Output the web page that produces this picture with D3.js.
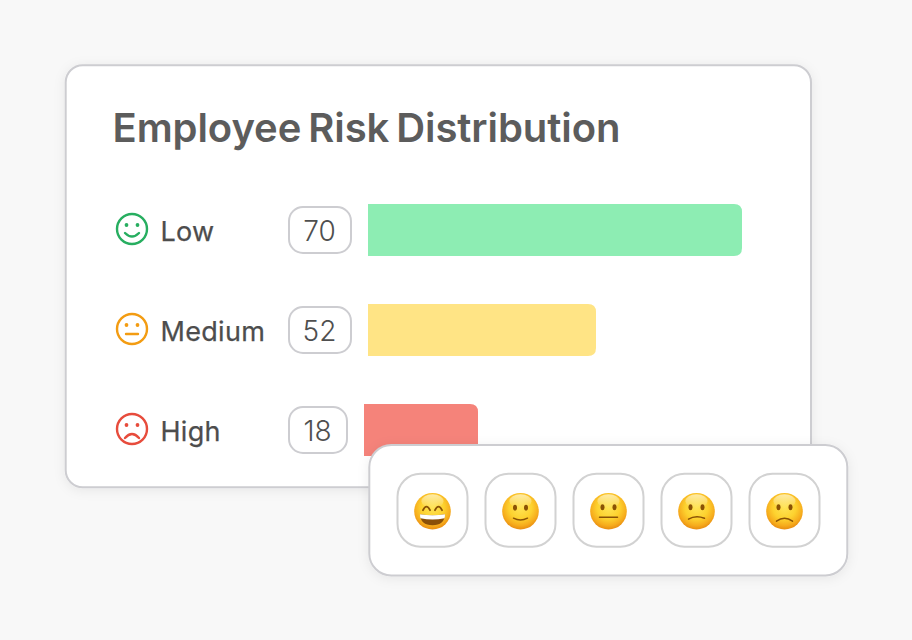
<!DOCTYPE html>
<html>
<head>
<meta charset="utf-8">
<style>
  html, body { margin: 0; padding: 0; background: #f8f8f8; }
  svg { display: block; }
  text { font-family: Inter, "Noto Sans", sans-serif; }
</style>
</head>
<body>
<script src="https://cdn.jsdelivr.net/npm/d3@7/dist/d3.min.js"></script>
<script>
const chartTitle = "Employee Risk Distribution";
const categories = ["Low", "Medium", "High"];
const riskValues = [70, 52, 18];
const barColors = ["#8dedb3", "#ffe485", "#f5837a"];
const iconColors = ["#27ae60", "#f39c12", "#e74c3c"];
const moods = ["grin", "smile", "neutral", "slight", "frown"];

const svg = d3.select("body").append("svg").attr("width", 912).attr("height", 640);
const defs = svg.append("defs");

const shadow = defs.append("filter").attr("id", "soft").attr("x", "-10%").attr("y", "-20%").attr("width", "120%").attr("height", "140%");
shadow.append("feDropShadow").attr("dx", 0).attr("dy", 2).attr("stdDeviation", 6).attr("flood-color", "#000").attr("flood-opacity", 0.07);

const face = defs.append("radialGradient").attr("id", "face").attr("cx", "50%").attr("cy", "40%").attr("r", "62%");
face.append("stop").attr("offset", "0%").attr("stop-color", "#ffe455");
face.append("stop").attr("offset", "50%").attr("stop-color", "#fdd22f");
face.append("stop").attr("offset", "80%").attr("stop-color", "#f6ab1c");
face.append("stop").attr("offset", "100%").attr("stop-color", "#e5860f");

const gloss = defs.append("linearGradient").attr("id", "gloss").attr("x1", 0).attr("y1", 0).attr("x2", 0).attr("y2", 1);
gloss.append("stop").attr("offset", "0%").attr("stop-color", "#fff").attr("stop-opacity", 0.6);
gloss.append("stop").attr("offset", "100%").attr("stop-color", "#fff").attr("stop-opacity", 0);

// Main card
svg.append("rect")
  .attr("x", 65.7).attr("y", 65.3).attr("width", 745.3).attr("height", 422).attr("rx", 17)
  .attr("fill", "#fff").attr("stroke", "#cdcdd1").attr("stroke-width", 2)
  .attr("filter", "url(#soft)");

svg.append("text")
  .attr("x", 112.5).attr("y", 142)
  .attr("font-size", 40).attr("font-weight", 600)
  .attr("letter-spacing", -0.08).attr("word-spacing", -3)
  .attr("fill", "#5c5c5c")
  .text(chartTitle);

// Rows: each value maps to a bar length; the badge sets where the bar begins
const rowY = d3.scalePoint().domain(categories).range([230, 430]);
const barLength = d3.scaleLinear().domain([0, 18, 52, 70]).range([0, 114, 228, 374]);
const barHeight = 52;
const barRadius = 8;
const badgeX = 289;
const badgeWidth = v => (String(v).startsWith("1") ? 58 : 62);

const rows = svg.selectAll("g.row")
  .data(categories.map((c, i) => ({ c, v: riskValues[i], bar: barColors[i], icon: iconColors[i], i })))
  .join("g")
  .attr("class", "row")
  .attr("transform", d => `translate(0,${rowY(d.c)})`);

rows.append("path")
  .attr("fill", d => d.bar)
  .attr("d", d => {
    const x0 = badgeX + badgeWidth(d.v) + 17;
    const x1 = x0 + barLength(d.v);
    const h = barHeight / 2, r = barRadius;
    return `M${x0},${-h}H${x1 - r}Q${x1},${-h} ${x1},${-h + r}V${h - r}Q${x1},${h} ${x1 - r},${h}H${x0}Z`;
  });

rows.append("rect")
  .attr("x", badgeX).attr("y", -23)
  .attr("width", d => badgeWidth(d.v)).attr("height", 46).attr("rx", 14)
  .attr("fill", "#fff").attr("stroke", "#cdcdd1").attr("stroke-width", 2);

rows.append("text")
  .attr("x", d => badgeX + badgeWidth(d.v) / 2 - 0.5).attr("y", 11)
  .attr("text-anchor", "middle").attr("font-size", 28).attr("font-weight", 300)
  .attr("fill", "#4f4f4f")
  .text(d => d.v);

rows.append("text")
  .attr("x", 160.5).attr("y", 11)
  .attr("font-size", 27).attr("font-weight", 400).attr("letter-spacing", 0.3)
  .attr("fill", "#4d4d4d").attr("stroke", "#4d4d4d").attr("stroke-width", 0.25)
  .text(d => d.c);

// Line-art mood icons beside the labels
const icon = rows.append("g")
  .attr("transform", "translate(132,-1)")
  .attr("fill", "none")
  .attr("stroke", d => d.icon)
  .attr("stroke-width", 2.4)
  .attr("stroke-linecap", "round");
icon.append("circle").attr("r", 15);
icon.each(function (d) {
  const g = d3.select(this);
  [-5.5, 5.5].forEach(dx => g.append("circle").attr("cx", dx).attr("cy", -4).attr("r", 1.9).attr("fill", d.icon).attr("stroke", "none"));
  const mouth = ["M-7,4Q0,11 7,4", "M-6,5H6", "M-7,9Q0,1 7,9"][d.i];
  g.append("path").attr("d", mouth);
});

// Floating mood picker
svg.append("rect")
  .attr("x", 369.3).attr("y", 445).attr("width", 478).attr("height", 130.5).attr("rx", 22)
  .attr("fill", "#fff").attr("stroke", "#cdcdd1").attr("stroke-width", 2)
  .attr("filter", "url(#soft)");

const moodX = d3.scalePoint().domain(moods).range([432.5, 784.5]);
const tiles = svg.selectAll("g.mood").data(moods).join("g")
  .attr("class", "mood")
  .attr("transform", d => `translate(${moodX(d)},510.2)`);

tiles.append("rect")
  .attr("x", -35).attr("y", -36.5).attr("width", 70).attr("height", 73).attr("rx", 23)
  .attr("fill", "#fff").attr("stroke", "#d2d2d2").attr("stroke-width", 2);

const faces = tiles.append("g").attr("transform", "translate(0,1)");
faces.append("circle").attr("r", 18.3).attr("fill", "url(#face)");
faces.append("ellipse").attr("cy", -10).attr("rx", 11).attr("ry", 7).attr("fill", "url(#gloss)");

const brown = "#8a5205";
faces.each(function (m) {
  const g = d3.select(this);
  if (m === "grin") {
    g.append("path").attr("d", "M-9.5,-1Q-6,-8 -2.5,-1M2.5,-1Q6,-8 9.5,-1")
      .attr("fill", "none").attr("stroke", brown).attr("stroke-width", 1.8).attr("stroke-linecap", "round");
    g.append("path").attr("d", "M-12.5,3Q0,5 12.5,3Q12,14 0,14Q-12,14 -12.5,3Z").attr("fill", "#8a4f08");
    g.append("path").attr("d", "M-12.5,3Q0,5 12.5,3Q12.5,6 12,7Q0,9.5 -12,7Q-12.5,6 -12.5,3Z").attr("fill", "#fff");
    return;
  }
  const eyeX = m === "smile" ? 5.5 : 6;
  const eyeY = m === "smile" ? -3.5 : -4;
  [-eyeX, eyeX].forEach(dx => g.append("ellipse").attr("cx", dx).attr("cy", eyeY).attr("rx", 2).attr("ry", 3).attr("fill", brown));
  const mouth = {
    smile: "M-7,7Q0,10.5 7,7",
    neutral: "M-9,6H9",
    slight: "M-8,8Q-1,3.5 8,7",
    frown: "M-8,10Q0,4 8,10"
  }[m];
  g.append("path").attr("d", mouth).attr("fill", "none").attr("stroke", brown).attr("stroke-width", 1.5).attr("stroke-linecap", "round");
});
</script>
</body>
</html>
